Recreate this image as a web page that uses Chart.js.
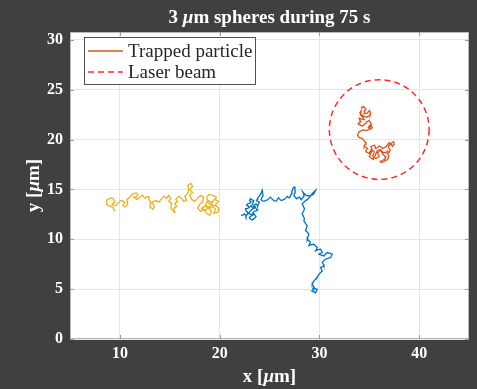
<!DOCTYPE html>
<html><head><meta charset="utf-8">
<script src="https://cdn.jsdelivr.net/npm/chart.js@4.4.0/dist/chart.umd.min.js"></script>
<style>html,body{margin:0;padding:0;background:#404040;}#wrap{width:477px;height:389px;position:relative;}</style>
</head><body><div id="wrap"><canvas id="c"></canvas></div>
<script>
const chartTitle = [['3 ', false], ['μ', true], ['m spheres during 75 s', false]];
const xAxisTitle = [['x [', false], ['μ', true], ['m]', false]];
const yAxisTitle = [['y [', false], ['μ', true], ['m]', false]];
const xTicks = [10, 20, 30, 40];
const yTicks = [0, 5, 10, 15, 20, 25, 30];
const xRange = [5, 45];
const yRange = [0, 30.78];
const legendLabels = ['Trapped particle', 'Laser beam'];
const laserCenter = [36, 21];
const laserRadius = 5;

const yellowTrack = [[9.4,13.0],[9.5,12.8],[9.3,13.2],[9.0,13.3],[8.85,13.4],[8.7,13.5],[8.65,13.7],[8.7,13.9],[8.85,14.05],[9.0,14.1],[9.2,14.15],[9.4,14.0],[9.5,13.7],[9.35,13.6],[9.2,13.5],[9.4,13.4],[9.6,13.4],[9.75,13.55],[9.9,13.7],[10.05,13.85],[10.2,13.9],[10.35,13.8],[10.5,13.7],[10.4,13.55],[10.3,13.4],[10.45,13.25],[10.6,13.3],[10.7,13.45],[10.8,13.6],[10.75,13.8],[10.7,14.0],[10.85,14.1],[11.0,14.2],[11.1,14.35],[11.2,14.5],[11.35,14.6],[11.5,14.6],[11.65,14.65],[11.8,14.5],[11.7,14.35],[11.6,14.2],[11.45,14.2],[11.3,14.3],[11.5,14.15],[11.7,14.0],[11.85,14.1],[12.0,14.2],[12.15,14.35],[12.3,14.4],[12.4,14.25],[12.5,14.1],[12.65,14.2],[12.8,14.3],[12.95,14.2],[12.9,14.0],[13.0,13.85],[13.1,13.7],[13.05,13.5],[13.0,13.3],[13.15,13.15],[13.3,13.0],[13.45,13.2],[13.4,13.4],[13.3,13.55],[13.2,13.7],[13.4,13.8],[13.6,13.9],[13.75,13.8],[13.9,13.7],[14.05,13.9],[14.2,14.1],[14.3,14.2],[14.4,14.3],[14.55,14.2],[14.7,14.1],[14.8,14.25],[14.9,14.4],[15.0,14.25],[15.1,14.1],[15.0,13.95],[14.9,13.8],[15.05,13.7],[15.2,13.6],[15.15,13.4],[15.1,13.2],[15.2,13.05],[15.3,12.9],[15.4,12.8],[15.5,12.7],[15.45,12.9],[15.4,13.1],[15.55,13.2],[15.7,13.3],[15.6,13.45],[15.5,13.6],[15.65,13.7],[15.8,13.8],[15.7,13.9],[15.6,14.0],[15.75,14.15],[15.9,14.3],[16.05,14.2],[16.2,14.1],[16.3,13.95],[16.4,13.8],[16.55,13.85],[16.7,13.9],[16.6,14.1],[16.5,14.3],[16.65,14.45],[16.8,14.6],[16.85,14.8],[16.9,15.0],[16.85,15.2],[16.8,15.4],[16.95,15.5],[17.1,15.6],[17.2,15.45],[17.3,15.3],[17.15,15.15],[17.0,15.0],[17.15,14.85],[17.3,14.7],[17.15,14.55],[17.0,14.4],[17.1,14.2],[17.2,14.0],[17.35,13.9],[17.5,13.8],[17.65,13.95],[17.8,14.1],[17.95,14.3],[18.1,14.4],[18.25,14.3],[18.4,14.2],[18.35,14.0],[18.3,13.8],[18.15,13.65],[18.0,13.5],[17.9,13.3],[17.8,13.1],[17.95,12.95],[18.1,12.8],[18.25,12.9],[18.4,13.0],[18.55,12.8],[18.7,12.6],[18.85,12.5],[19.0,12.4],[19.1,12.6],[19.2,12.8],[19.05,12.95],[18.9,13.1],[19.1,13.2],[19.3,13.3],[19.45,13.15],[19.6,13.0],[19.5,12.8],[19.4,12.6],[19.6,12.65],[19.8,12.7],[19.85,12.9],[19.9,13.1],[19.75,13.3],[19.6,13.5],[19.75,13.65],[19.9,13.8],[19.7,13.9],[19.5,14.0],[19.35,13.85],[19.2,13.7],[19.0,13.8],[18.8,13.9],[18.7,13.65],[18.6,13.4],[18.75,13.3],[18.9,13.2],[18.7,13.25],[18.5,13.3],[18.35,13.2],[18.2,13.1],[18.4,13.0],[18.6,12.9],[18.85,13.15],[19.1,13.4],[19.25,13.65],[19.4,13.9],[19.55,14.05],[19.7,14.2],[19.5,14.3],[19.3,14.4],[19.1,14.45],[18.9,14.5],[18.8,14.35],[18.7,14.2],[18.8,13.9],[18.9,13.6],[19.15,13.5],[19.4,13.4],[19.6,13.35],[19.8,13.3]];

const blueTrack = [[22.14,12.37],[22.35,12.45],[22.48,12.54],[22.6,12.4],[22.64,12.27],[22.75,12.5],[22.81,12.71],[22.65,12.85],[22.58,13.05],[22.8,13.1],[22.98,13.22],[22.85,13.35],[22.7,13.4],[22.81,13.55],[22.95,13.6],[23.15,13.72],[23.05,13.85],[23.0,13.9],[23.08,14.06],[23.25,13.95],[23.42,13.89],[23.35,13.7],[23.32,13.49],[23.2,13.4],[23.1,13.3],[23.3,13.2],[23.55,13.28],[23.45,13.1],[23.3,13.05],[23.15,12.88],[23.0,12.75],[22.9,12.6],[23.1,12.5],[23.42,12.54],[23.3,12.4],[23.2,12.35],[23.05,12.25],[22.98,12.14],[23.15,12.0],[23.32,11.94],[23.4,12.05],[23.5,12.1],[23.65,12.27],[23.55,12.4],[23.4,12.5],[23.35,12.7],[23.48,12.81],[23.65,12.85],[23.82,12.95],[23.7,13.05],[23.6,13.15],[23.4,13.3],[23.5,13.45],[23.65,13.55],[23.75,13.45],[23.8,13.35],[23.9,13.55],[23.99,13.72],[23.85,13.8],[23.7,13.85],[23.75,14.0],[23.82,14.16],[23.95,14.3],[24.09,14.5],[24.2,14.7],[24.26,14.9],[24.3,14.65],[24.36,14.4],[24.25,14.2],[24.15,13.96],[24.3,13.85],[24.49,13.82],[24.65,13.9],[24.83,13.96],[24.95,14.1],[25.09,14.23],[25.2,14.1],[25.33,13.96],[25.5,13.85],[25.66,13.82],[25.8,14.0],[25.9,14.16],[26.05,14.0],[26.17,13.89],[26.35,13.95],[26.5,14.02],[26.65,14.15],[26.77,14.29],[26.9,14.2],[27.0,14.16],[27.1,14.35],[27.18,14.56],[27.25,14.8],[27.34,15.07],[27.42,15.2],[27.51,15.24],[27.55,15.0],[27.58,14.73],[27.5,14.55],[27.44,14.4],[27.6,14.2],[27.71,14.06],[27.85,14.15],[28.01,14.23],[28.1,14.1],[28.18,13.96],[28.3,14.1],[28.42,14.29],[28.45,14.5],[28.35,14.73],[28.5,14.55],[28.7,14.4],[28.9,14.35],[29.1,14.39],[29.3,14.45],[29.45,14.56],[29.55,14.75],[29.62,14.9],[29.45,14.75],[29.3,14.6],[29.1,14.3],[28.9,14.1],[28.75,13.95],[28.61,13.88],[28.45,13.7],[28.27,13.55],[28.4,13.3],[28.51,13.04],[28.4,12.8],[28.27,12.54],[28.4,12.3],[28.51,12.03],[28.44,11.87],[28.6,11.6],[28.78,11.36],[28.7,11.1],[28.61,10.86],[28.8,10.7],[28.95,10.52],[28.85,10.25],[28.78,10.02],[28.95,9.85],[29.11,9.68],[29.0,9.5],[28.95,9.35],[29.2,9.45],[29.45,9.51],[29.6,9.35],[29.78,9.18],[29.7,9.0],[29.62,8.84],[29.85,8.95],[30.12,9.01],[30.2,8.85],[30.29,8.67],[30.1,8.6],[29.95,8.5],[30.2,8.4],[30.46,8.33],[30.6,8.5],[30.79,8.67],[31.0,8.6],[31.29,8.5],[31.2,8.35],[31.13,8.17],[30.9,8.1],[30.62,8.0],[30.45,7.85],[30.29,7.66],[30.4,7.5],[30.46,7.32],[30.3,7.25],[30.12,7.16],[30.2,7.0],[30.29,6.82],[30.1,6.65],[29.95,6.48],[29.85,6.3],[29.78,6.15],[29.6,6.0],[29.45,5.81],[29.35,5.65],[29.28,5.47],[29.4,5.3],[29.45,5.14],[29.6,5.05],[29.78,4.97],[29.7,4.8],[29.62,4.63],[29.45,4.7],[29.28,4.8],[29.35,5.05],[29.45,5.3]];

const orangeTrack = [[34.16,23.15],[34.3,23.25],[34.43,23.32],[34.55,23.15],[34.66,23.05],[34.55,22.9],[34.49,22.71],[34.65,22.6],[34.83,22.64],[34.9,22.8],[35.0,22.91],[35.15,22.7],[35.1,22.48],[34.95,22.35],[34.76,22.24],[34.55,22.3],[34.32,22.37],[34.2,22.55],[34.05,22.7],[34.2,22.9],[34.1,22.5],[34.4,22.15],[34.5,22.0],[34.25,22.05],[33.99,22.14],[34.05,21.95],[34.16,21.8],[34.0,21.7],[33.89,21.57],[34.1,21.45],[34.32,21.36],[34.5,21.5],[34.66,21.63],[34.8,21.8],[35.0,21.9],[35.1,21.75],[35.23,21.57],[35.05,21.4],[34.9,21.23],[35.0,21.1],[35.16,21.03],[35.3,21.2],[35.2,21.4],[34.95,21.0],[34.76,20.89],[34.55,20.95],[34.32,20.96],[34.15,20.85],[33.99,20.79],[33.9,20.6],[33.82,20.45],[33.9,20.3],[33.99,20.22],[34.15,20.15],[34.32,20.12],[34.4,20.0],[34.49,19.88],[34.6,19.75],[34.66,19.61],[34.55,19.45],[34.49,19.28],[34.65,19.2],[34.83,19.11],[34.7,18.95],[34.66,18.77],[34.85,18.7],[35.0,18.6],[35.1,18.8],[35.16,18.94],[35.35,18.9],[35.5,18.77],[35.45,18.55],[35.33,18.33],[35.5,18.2],[35.67,18.1],[35.85,18.2],[36.0,18.33],[35.9,18.5],[35.83,18.67],[36.0,18.8],[36.17,18.94],[36.25,18.75],[36.34,18.54],[36.5,18.4],[36.67,18.27],[36.6,18.1],[36.5,18.0],[36.3,17.9],[36.1,17.8],[36.2,17.7],[36.3,17.7],[36.55,17.85],[36.84,18.0],[36.95,18.3],[36.84,18.6],[37.0,18.75],[37.11,18.94],[37.0,19.1],[36.91,19.28],[37.05,19.45],[37.18,19.61],[37.3,19.7],[37.45,19.78],[37.5,19.55],[37.34,19.34],[37.2,19.5],[37.01,19.68],[36.85,19.5],[36.67,19.28],[36.5,19.2],[36.34,19.11],[36.2,19.25],[36.0,19.34],[35.85,19.2],[35.67,19.11],[35.6,19.3],[35.5,19.44],[35.3,19.35],[35.16,19.28],[35.25,19.1],[35.3,18.9],[35.15,18.6],[35.0,18.3],[35.2,18.15],[35.4,18.0],[35.6,18.4],[35.8,18.9],[36.1,19.0],[36.4,18.7],[36.7,18.7],[36.9,18.9]];

const colors = { yellow: '#EDB120', blue: '#0072BD', orange: '#D95319', laser: '#FF2A2A', bg: '#404040', grid: '#e6e6e6', box: '#b8b8b8' };
const serif = '"Liberation Serif", "DejaVu Serif", serif';

function toPts(tr) { return tr.map(p => ({ x: p[0], y: p[1] })); }

function drawRich(ctx, parts, size, bold, cx, cy, rot) {
  ctx.save();
  ctx.translate(cx, cy);
  if (rot) ctx.rotate(rot);
  ctx.textBaseline = 'middle';
  ctx.textAlign = 'left';
  const fonts = parts.map(p => (p[1] ? 'italic ' : '') + (bold ? 'bold ' : '') + size + 'px ' + serif);
  let w = 0; const ws = [];
  parts.forEach((p, i) => { ctx.font = fonts[i]; const m = ctx.measureText(p[0]).width; ws.push(m); w += m; });
  let x = -w / 2;
  parts.forEach((p, i) => { ctx.font = fonts[i]; ctx.fillStyle = '#ffffff'; ctx.fillText(p[0], x, 0); x += ws[i]; });
  ctx.restore();
}

const decor = {
  id: 'decor',
  beforeDraw(chart) {
    const { ctx, chartArea: a } = chart;
    ctx.save();
    ctx.fillStyle = colors.bg;
    ctx.fillRect(0, 0, chart.width, chart.height);
    ctx.fillStyle = '#ffffff';
    ctx.fillRect(a.left, a.top, a.right - a.left, a.bottom - a.top);
    ctx.restore();
  },
  afterDatasetsDraw(chart) {
    const { ctx, chartArea: a, scales: { x, y } } = chart;
    const cx = x.getPixelForValue(laserCenter[0]);
    const cy = y.getPixelForValue(laserCenter[1]);
    const rx = Math.abs(x.getPixelForValue(laserCenter[0] + laserRadius) - cx);
    const ry = Math.abs(y.getPixelForValue(laserCenter[1] + laserRadius) - cy);
    ctx.save();
    ctx.beginPath(); ctx.rect(a.left, a.top, a.right - a.left, a.bottom - a.top); ctx.clip();
    ctx.strokeStyle = colors.laser; ctx.lineWidth = 1.5; ctx.setLineDash([6, 4]);
    ctx.beginPath(); ctx.ellipse(cx, cy, rx, ry, 0, 0, Math.PI * 2); ctx.stroke();
    ctx.restore();
  },
  afterDraw(chart) {
    const { ctx, chartArea: a, scales: { x, y } } = chart;
    ctx.save();
    ctx.strokeStyle = colors.box; ctx.lineWidth = 1;
    ctx.strokeRect(Math.round(a.left) + 0.5, Math.round(a.top) + 0.5, Math.round(a.right - a.left) - 1, Math.round(a.bottom - a.top) - 1);
    ctx.strokeStyle = '#9a9a9a';
    ctx.beginPath();
    xTicks.forEach(v => { const px = Math.round(x.getPixelForValue(v)) + 0.5; ctx.moveTo(px, a.bottom); ctx.lineTo(px, a.bottom - 4); ctx.moveTo(px, a.top); ctx.lineTo(px, a.top + 4); });
    yTicks.forEach(v => { const py = Math.round(y.getPixelForValue(v)) + 0.5; ctx.moveTo(a.left, py); ctx.lineTo(a.left + 4, py); ctx.moveTo(a.right, py); ctx.lineTo(a.right - 4, py); });
    ctx.stroke();
    const lx = 84.5, ly = 37.5, lw = 171, lh = 47;
    ctx.fillStyle = '#ffffff'; ctx.fillRect(lx, ly, lw, lh);
    ctx.strokeStyle = '#262626'; ctx.lineWidth = 0.8; ctx.strokeRect(lx, ly, lw, lh);
    const rows = [ly + 13.5, ly + 34.5];
    ctx.lineWidth = 1.3;
    ctx.strokeStyle = colors.orange; ctx.setLineDash([]);
    ctx.beginPath(); ctx.moveTo(88, rows[0]); ctx.lineTo(123, rows[0]); ctx.stroke();
    ctx.strokeStyle = colors.laser; ctx.lineWidth = 1.5; ctx.setLineDash([6, 4]);
    ctx.beginPath(); ctx.moveTo(88, rows[1]); ctx.lineTo(123, rows[1]); ctx.stroke();
    ctx.setLineDash([]);
    ctx.fillStyle = '#262626'; ctx.font = '19px ' + serif; ctx.textBaseline = 'middle'; ctx.textAlign = 'left';
    ctx.fillText(legendLabels[0], 128, rows[0] + 1);
    ctx.fillText(legendLabels[1], 128, rows[1] + 1);
    ctx.restore();
    const mid = (a.left + a.right) / 2;
    drawRich(ctx, chartTitle, 19, true, mid, 18.5, 0);
    drawRich(ctx, xAxisTitle, 19, true, mid, 377, 0);
    drawRich(ctx, yAxisTitle, 19, true, 34, (a.top + a.bottom) / 2, -Math.PI / 2);
  }
};

new Chart(document.getElementById('c'), {
  type: 'scatter',
  data: {
    datasets: [
      { label: 'yellow', data: toPts(yellowTrack), borderColor: colors.yellow, showLine: true, pointRadius: 0, borderWidth: 1.3, tension: 0 },
      { label: 'blue', data: toPts(blueTrack), borderColor: colors.blue, showLine: true, pointRadius: 0, borderWidth: 1.3, tension: 0 },
      { label: legendLabels[0], data: toPts(orangeTrack), borderColor: colors.orange, showLine: true, pointRadius: 0, borderWidth: 1.3, tension: 0 }
    ]
  },
  options: {
    responsive: true, maintainAspectRatio: false, animation: false, devicePixelRatio: 1,
    layout: { padding: { top: 32, right: 8, left: 0, bottom: 0 } },
    plugins: { legend: { display: false }, title: { display: false }, tooltip: { enabled: false } },
    scales: {
      x: {
        type: 'linear', min: xRange[0], max: xRange[1],
        afterFit(s) { s.height = 50; },
        afterBuildTicks(s) { s.ticks = xTicks.map(v => ({ value: v })); },
        grid: { color: colors.grid, drawTicks: false, lineWidth: 1 },
        border: { display: false },
        ticks: { color: '#ffffff', padding: 5, font: { family: serif, size: 16, weight: 'bold' }, maxRotation: 0 }
      },
      y: {
        type: 'linear', min: yRange[0], max: yRange[1],
        afterFit(s) { s.width = 70; },
        afterBuildTicks(s) { s.ticks = yTicks.map(v => ({ value: v })); },
        grid: { color: colors.grid, drawTicks: false, lineWidth: 1 },
        border: { display: false },
        ticks: { color: '#ffffff', padding: 7, font: { family: serif, size: 16, weight: 'bold' } }
      }
    }
  },
  plugins: [decor]
});
</script>
</body></html>
